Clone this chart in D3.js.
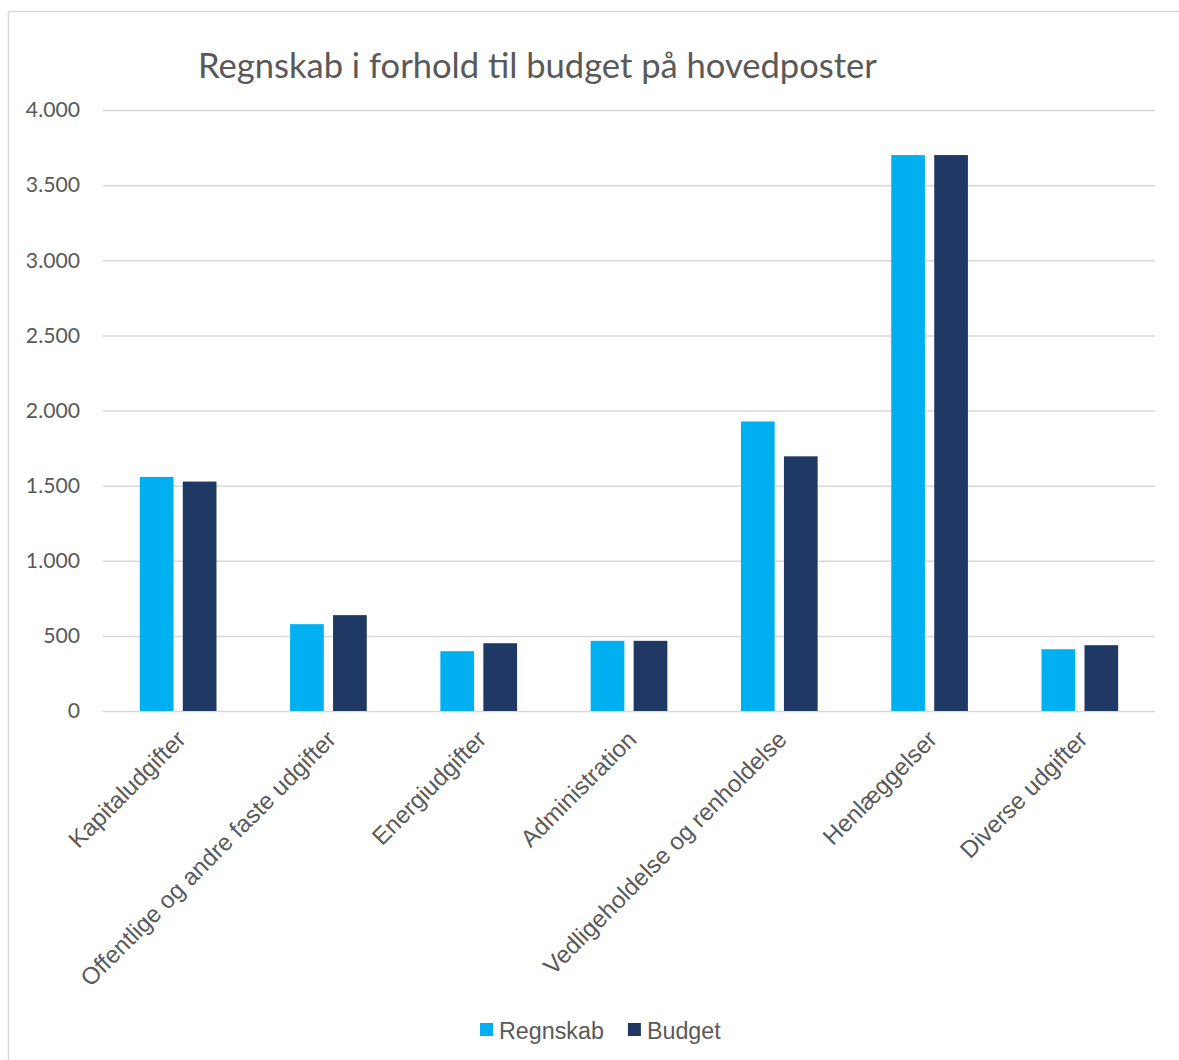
<!DOCTYPE html>
<html>
<head>
<meta charset="utf-8">
<script src="https://cdn.jsdelivr.net/npm/d3@7"></script>
<style>
  html, body { margin: 0; padding: 0; background: #fff; }
  svg { display: block; }
</style>
</head>
<body>
<svg id="chart" width="1179" height="1060"></svg>
<script>
const categories = [
  "Kapitaludgifter",
  "Offentlige og andre faste udgifter",
  "Energiudgifter",
  "Administration",
  "Vedligeholdelse og renholdelse",
  "Henlæggelser",
  "Diverse udgifter"
];
const seriesNames = ["Regnskab", "Budget"];
const regnskab = [1558, 578, 398, 467, 1927, 3700, 411];
const budget   = [1527, 638, 451, 467, 1695, 3700, 438];
const yTicks = [0, 500, 1000, 1500, 2000, 2500, 3000, 3500, 4000];
const title = "Regnskab i forhold til budget på hovedposter";

const colors = { "Regnskab": "#00b0f0", "Budget": "#1f3864" };
const textColor = "#595959";
const gridColor = "#d9d9d9";

const svg = d3.select("#chart");

// chart border
svg.append("rect")
  .attr("x", 8.5).attr("y", 11.5)
  .attr("width", 1200).attr("height", 1100)
  .attr("fill", "#fff").attr("stroke", gridColor).attr("stroke-width", 1.5);

const plot = { left: 103, right: 1155, top: 110, bottom: 711 };

const x0 = d3.scaleBand().domain(categories).range([plot.left, plot.right]).padding(0);
const groupPad = 36.8;
const x1 = d3.scaleBand().domain(seriesNames)
  .range([groupPad, x0.bandwidth() - groupPad]).paddingInner(0.216).paddingOuter(0);
const y = d3.scaleLinear().domain([0, 4000]).range([plot.bottom, plot.top]);

// gridlines
const yAxis = d3.axisLeft(y).tickValues(yTicks)
  .tickSize(-(plot.right - plot.left))
  .tickFormat(d => d3.format(",")(d).replace(/,/g, "."))
  .tickPadding(23);
const gy = svg.append("g").attr("transform", `translate(${plot.left},0)`).call(yAxis);
gy.select(".domain").remove();
gy.selectAll(".tick line").attr("stroke", gridColor).attr("stroke-width", 1.5);
gy.selectAll(".tick text")
  .attr("fill", textColor)
  .style("font-family", "Lato, 'Open Sans', sans-serif")
  .style("font-size", "21.2px");

// bars
const data = categories.map((c, i) => ({ cat: c, values: [
  { key: "Regnskab", value: regnskab[i] },
  { key: "Budget", value: budget[i] }
]}));

const groups = svg.append("g").selectAll("g").data(data).join("g")
  .attr("transform", d => `translate(${x0(d.cat)},0)`);
groups.selectAll("rect").data(d => d.values).join("rect")
  .attr("x", d => x1(d.key))
  .attr("width", x1.bandwidth())
  .attr("y", d => y(d.value))
  .attr("height", d => y(0) - y(d.value))
  .attr("fill", d => colors[d.key]);

// x labels
const xAxis = d3.axisBottom(x0).tickSize(0).tickPadding(0);
const gx = svg.append("g").attr("transform", `translate(0,${plot.bottom})`).call(xAxis);
gx.select(".domain").remove();
gx.selectAll(".tick text")
  .attr("fill", textColor)
  .style("font-family", "'Liberation Sans', Arial, sans-serif")
  .style("font-size", "24px")
  .attr("text-anchor", "end")
  .attr("x", 0).attr("y", 0).attr("dy", "0.35em")
  .attr("transform", "translate(3,24) rotate(-45)");

// title
const t = svg.append("text")
  .attr("x", 198).attr("y", 78)
  .attr("fill", textColor)
  .style("font-family", "Lato, 'Open Sans', sans-serif")
  .style("font-size", "34px")
  .text(title);
const tw = t.node().getComputedTextLength();
t.style("font-size", (34 * 679 / tw) + "px");

// legend
const legend = svg.append("g").attr("transform", "translate(480,1023)");
let lx = 0;
seriesNames.forEach(name => {
  legend.append("rect").attr("x", lx).attr("y", 0).attr("width", 13).attr("height", 13)
    .attr("fill", colors[name]);
  const tx = legend.append("text").attr("x", lx + 19).attr("y", 16)
    .attr("fill", textColor)
    .style("font-family", "'Liberation Sans', Arial, sans-serif")
    .style("font-size", "23.3px")
    .text(name);
  lx += 19 + tx.node().getComputedTextLength() + 24;
});
</script>
</body>
</html>
